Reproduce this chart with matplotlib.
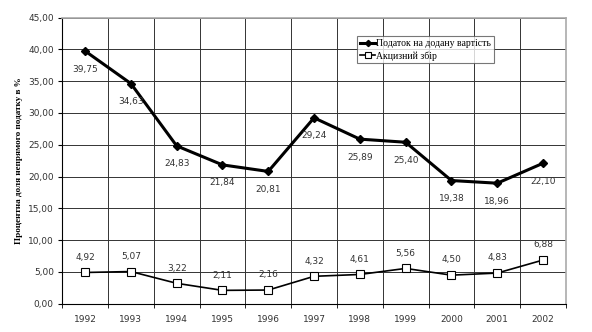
import matplotlib.pyplot as plt
import numpy as np

years = ['1992', '1993', '1994', '1995', '1996', '1997', '1998', '1999', '2000', '2001', '2002']
vat = [39.75, 34.63, 24.83, 21.84, 20.81, 29.24, 25.89, 25.40, 19.38, 18.96, 22.10]
excise = [4.92, 5.07, 3.22, 2.11, 2.16, 4.32, 4.61, 5.56, 4.50, 4.83, 6.88]

fig = plt.figure(figsize=(5.92, 3.32), dpi=100)
ax = fig.add_axes([0.105, 0.085, 0.851, 0.862])

x = np.arange(len(years))
ax.plot(x, vat, color='black', lw=2.2, marker='D', ms=4.5, label='Податок на додану вартість', zorder=3)
ax.plot(x, excise, color='black', lw=1.2, marker='s', ms=6, mfc='white', mec='black', mew=0.8,
        label='Акцизний збір', zorder=3)

fmt = lambda v: f'{v:.2f}'.replace('.', ',')
for xi, v in zip(x, vat):
    ax.annotate(fmt(v), (xi, v), xytext=(0, -13), textcoords='offset points', ha='center',
                va='center', fontsize=6.5, color='#333333')
for xi, v in zip(x, excise):
    ax.annotate(fmt(v), (xi, v), xytext=(0, 11), textcoords='offset points', ha='center',
                va='center', fontsize=6.5, color='#333333')

ax.set_xlim(-0.5, len(years) - 0.5)
ax.set_ylim(0, 45)
ax.set_yticks(np.arange(0, 46, 5))
ax.set_yticklabels([fmt(v) for v in np.arange(0, 46, 5)], fontsize=6.5, color='#333333')
ax.set_xticks(x)
ax.set_xticklabels(years, fontsize=6.5, color='#333333')
ax.set_xticks(np.arange(-0.5, len(years), 1), minor=True)
ax.tick_params(axis='x', which='major', length=0, pad=8)
ax.tick_params(axis='x', which='minor', length=3, direction='out')
ax.tick_params(axis='y', length=3, direction='out', pad=3)

ax.grid(True, axis='y', color='#333333', lw=0.7)
ax.grid(True, axis='x', which='minor', color='#333333', lw=0.7)
ax.set_axisbelow(True)

for s in ['top', 'right']:
    ax.spines[s].set_color('#aaaaaa')
    ax.spines[s].set_linewidth(1.2)
for s in ['left', 'bottom']:
    ax.spines[s].set_color('black')
    ax.spines[s].set_linewidth(0.8)

ax.set_ylabel('Процентна доля непрямого податку в %', family='Liberation Serif',
              fontweight='bold', fontsize=6.6, labelpad=4)

leg = ax.legend(loc='upper left', bbox_to_anchor=(0.585, 0.935), prop={'family': 'Liberation Serif', 'size': 7},
                frameon=True, fancybox=False, edgecolor='#555555', borderpad=0.3, labelspacing=0.3,
                handlelength=1.6, handletextpad=0.1, borderaxespad=0, markerscale=0.7)
leg.get_frame().set_linewidth(0.8)

fig.savefig('out.png', dpi=100)
